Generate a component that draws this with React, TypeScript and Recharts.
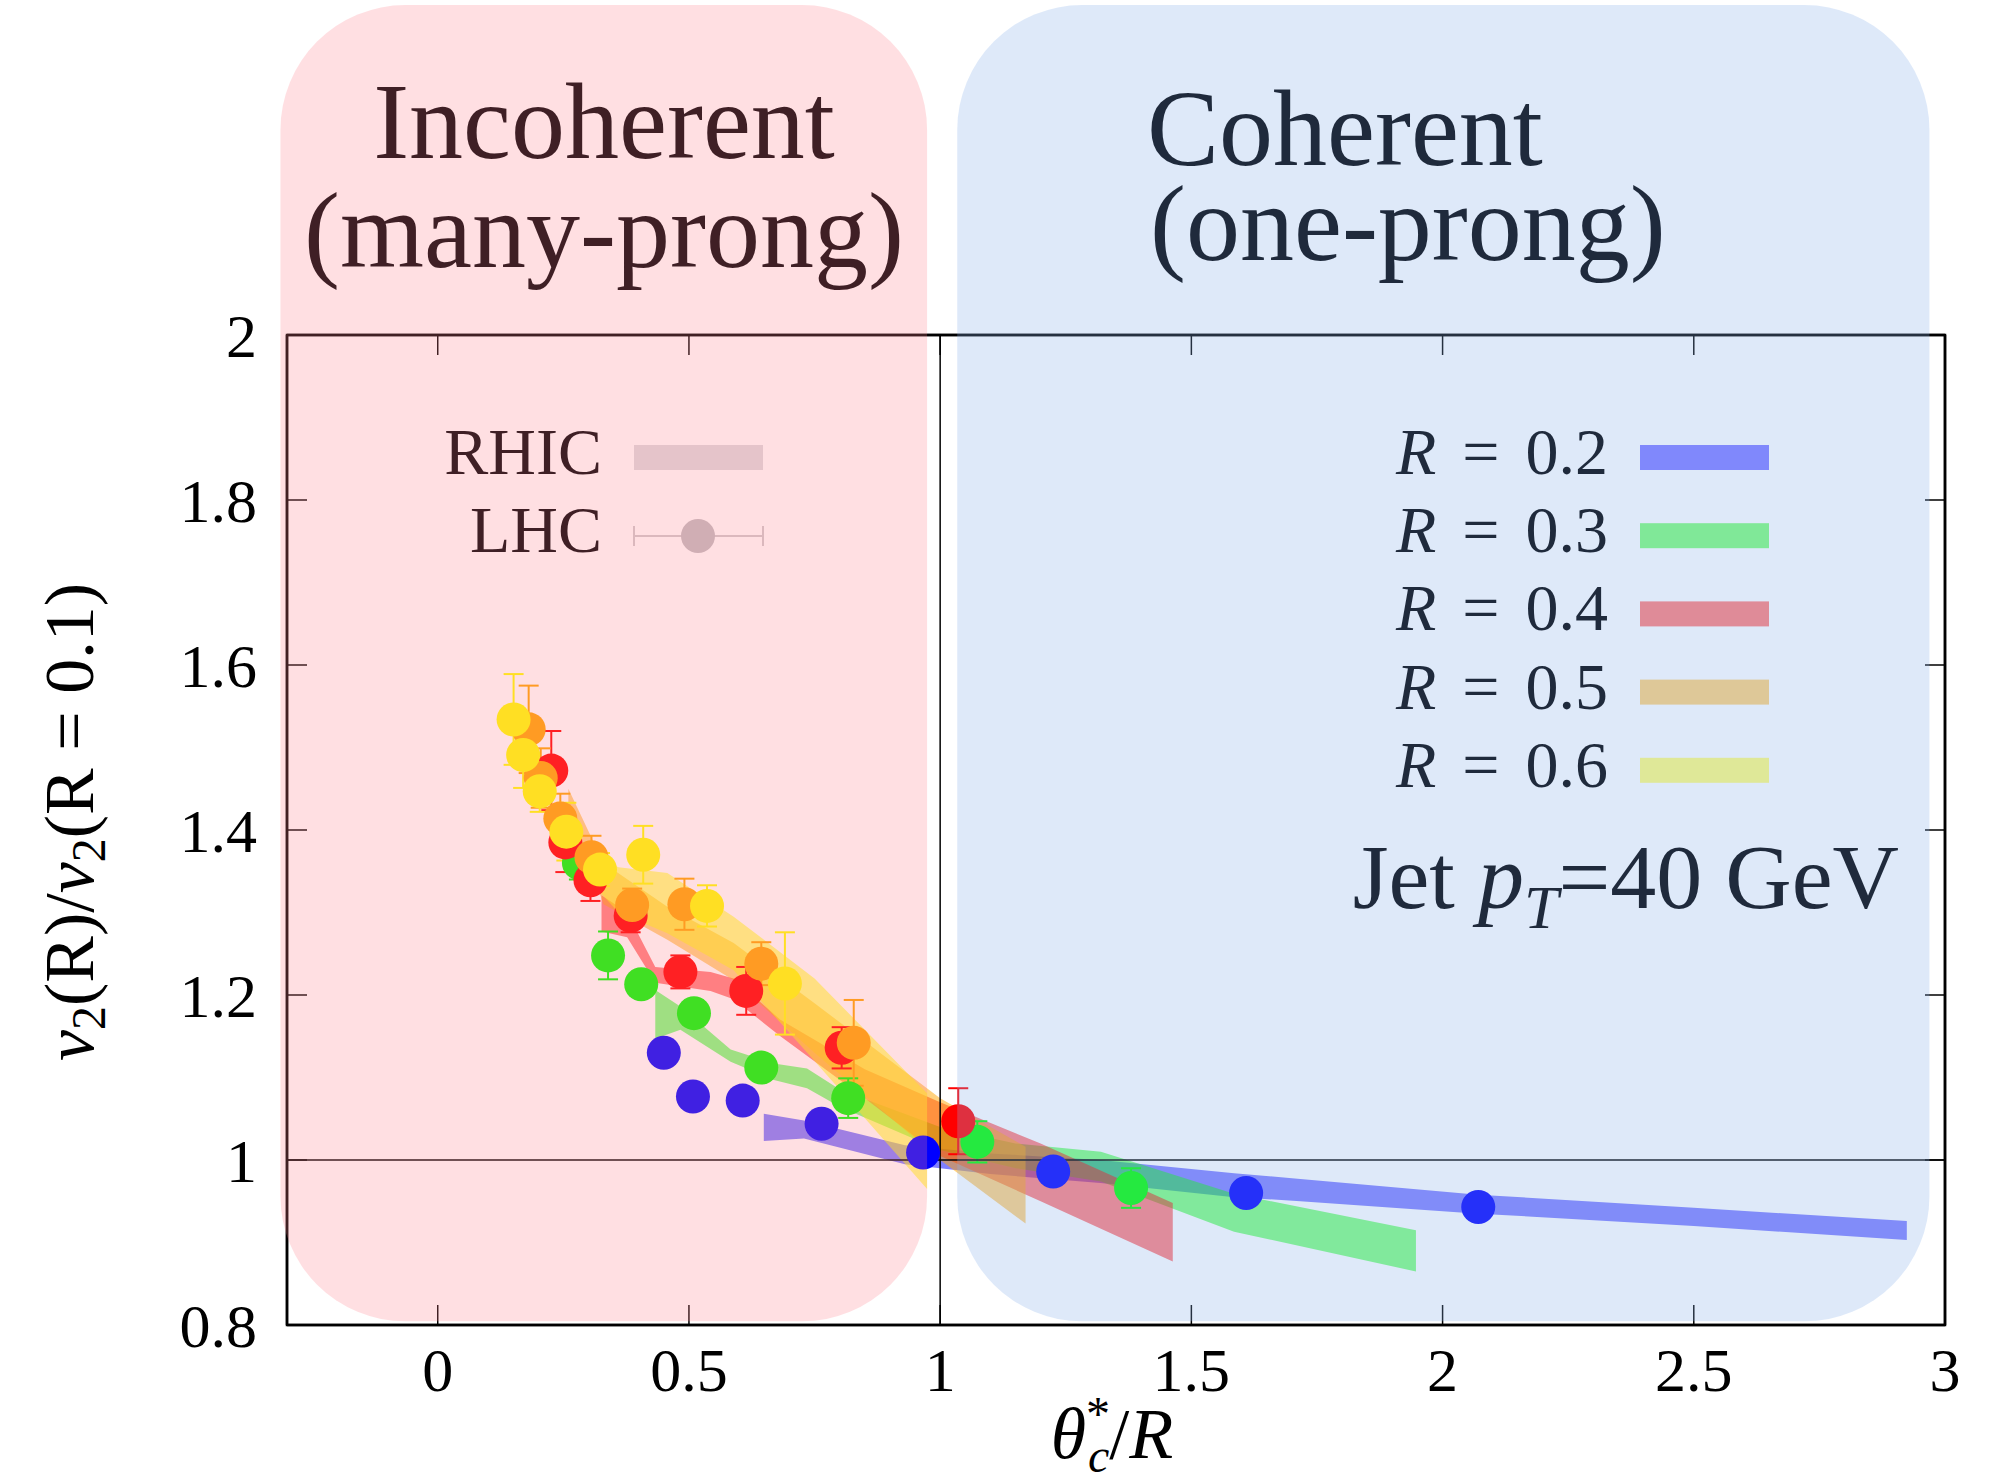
import React from "react";
import {
  ComposedChart,
  XAxis,
  YAxis,
  Area,
  Scatter,
  ErrorBar,
  ReferenceArea,
  ReferenceLine,
} from "recharts";

const W = 1999;
const H = 1481;
const FONT = "'Liberation Serif', 'DejaVu Serif', serif";

const xTicks = [0, 0.5, 1, 1.5, 2, 2.5, 3];
const yTicks = [0.8, 1, 1.2, 1.4, 1.6, 1.8, 2];

const radiusLabels = ["0.2", "0.3", "0.4", "0.5", "0.6"];
const seriesColors = ["#0000ff", "#00ff00", "#ff0000", "#ffa500", "#ffff00"];
// how the band colours look through the blue panel (legend swatches)
const swatchColors = ["#8088fc", "#80e898", "#df8b98", "#dec898", "#dfe898"];

// RHIC bands (lower / upper edge)
const bandX02 = [0.649, 0.729, 0.93, 1.1, 1.319, 1.585, 1.717, 2.071, 2.5, 2.924];
const bandLo02 = [1.023, 1.026, 0.995, 0.983, 0.972, 0.955, 0.95, 0.935, 0.92, 0.903];
const bandHi02 = [1.056, 1.048, 1.018, 1.008, 1.0, 0.984, 0.977, 0.958, 0.942, 0.926];

const bandX03 = [0.433, 0.483, 0.583, 0.669, 0.735, 0.802, 1.0, 1.15, 1.32, 1.585, 1.947];
const bandLo03 = [1.147, 1.158, 1.119, 1.097, 1.087, 1.064, 1.012, 0.99, 0.974, 0.913, 0.865];
const bandHi03 = [1.206, 1.186, 1.134, 1.117, 1.111, 1.085, 1.04, 1.02, 1.01, 0.959, 0.915];

const bandX04 = [0.326, 0.377, 0.433, 0.543, 0.589, 0.682, 0.85, 1.0, 1.2, 1.463];
const bandLo04 = [1.277, 1.27, 1.215, 1.205, 1.195, 1.15, 1.075, 1.005, 0.95, 0.877];
const bandHi04 = [1.321, 1.3, 1.234, 1.228, 1.22, 1.17, 1.11, 1.07, 1.02, 0.948];

const bandX05 = [0.26, 0.33, 0.457, 0.589, 0.75, 1.0, 1.17];
const bandLo05 = [1.43, 1.31, 1.267, 1.218, 1.13, 1.0, 0.923];
const bandHi05 = [1.45, 1.36, 1.307, 1.263, 1.19, 1.075, 1.016];

const bandX06 = [0.3, 0.36, 0.457, 0.589, 0.75, 0.974];
const bandLo06 = [1.34, 1.3, 1.275, 1.23, 1.12, 0.965];
const bandHi06 = [1.37, 1.355, 1.348, 1.295, 1.22, 1.081];

// LHC points
const lhcX02 = [0.45, 0.508, 0.607, 0.764, 0.966, 1.225, 1.609, 2.071];
const lhcY02 = [1.13, 1.077, 1.072, 1.044, 1.009, 0.986, 0.96, 0.943];
const lhcErr02 = [0.004, 0.004, 0.004, 0.004, 0.004, 0.004, 0.004, 0.004];

const lhcX03 = [0.281, 0.339, 0.405, 0.51, 0.644, 0.817, 1.074, 1.38];
const lhcY03 = [1.36, 1.248, 1.213, 1.178, 1.112, 1.075, 1.022, 0.966];
const lhcErr03 = [0.02, 0.029, 0.015, 0.015, 0.015, 0.024, 0.025, 0.024];

const lhcX04 = [0.226, 0.254, 0.304, 0.384, 0.483, 0.614, 0.804, 1.036];
const lhcY04 = [1.472, 1.385, 1.339, 1.296, 1.228, 1.205, 1.136, 1.047];
const lhcErr04 = [0.048, 0.036, 0.025, 0.02, 0.02, 0.029, 0.025, 0.04];

const lhcX05 = [0.181, 0.205, 0.244, 0.306, 0.387, 0.491, 0.644, 0.828];
const lhcY05 = [1.522, 1.463, 1.414, 1.367, 1.309, 1.31, 1.238, 1.142];
const lhcErr05 = [0.053, 0.036, 0.03, 0.026, 0.02, 0.031, 0.026, 0.052];

const lhcX06 = [0.151, 0.17, 0.203, 0.256, 0.323, 0.409, 0.536, 0.691];
const lhcY06 = [1.534, 1.491, 1.447, 1.398, 1.352, 1.37, 1.308, 1.214];
const lhcErr06 = [0.055, 0.04, 0.025, 0.035, 0.02, 0.035, 0.025, 0.062];

const makeBand = (xs: number[], lo: number[], hi: number[]) =>
  xs.map((x, i) => ({ x, lo: lo[i], hi: hi[i] }));
const makePoints = (xs: number[], ys: number[], errs: number[]) =>
  xs.map((x, i) => ({ x, y: ys[i], err: errs[i] }));

const bands = [
  makeBand(bandX02, bandLo02, bandHi02),
  makeBand(bandX03, bandLo03, bandHi03),
  makeBand(bandX04, bandLo04, bandHi04),
  makeBand(bandX05, bandLo05, bandHi05),
  makeBand(bandX06, bandLo06, bandHi06),
];
const points = [
  makePoints(lhcX02, lhcY02, lhcErr02),
  makePoints(lhcX03, lhcY03, lhcErr03),
  makePoints(lhcX04, lhcY04, lhcErr04),
  makePoints(lhcX05, lhcY05, lhcErr05),
  makePoints(lhcX06, lhcY06, lhcErr06),
];

// the two shaded regimes, in data coordinates
const incoherentBox = { x1: -0.313, x2: 0.974, y1: 0.8045, y2: 2.4 };
const coherentBox = { x1: 1.034, x2: 2.969, y1: 0.8045, y2: 2.4 };

const roundedPanel = (fill: string, opacity: number) => (p: any) => (
  <rect
    x={p.x}
    y={p.y}
    width={p.width}
    height={p.height}
    rx={125}
    ry={125}
    fill={fill}
    fillOpacity={opacity}
  />
);

const axisLine = { stroke: "#000", strokeWidth: 2.5 };
const tickLine = { stroke: "#000", strokeWidth: 1.5 };
const tickFont = { fill: "#000", fontSize: 62, fontFamily: FONT };
const noLabel = () => <g />;

const PINK_TEXT = "#3f1f25";
const BLUE_TEXT = "#1f2a3c";

export default function App() {
  return (
    <div style={{ position: "absolute", left: 0, top: 0, width: W, height: H, background: "#fff" }}>
      <ComposedChart
        width={W}
        height={H}
        margin={{ top: 334, right: 53, bottom: 96, left: 187 }}
      >
        <XAxis
          type="number"
          dataKey="x"
          domain={[-0.3, 3]}
          ticks={xTicks}
          allowDataOverflow
          height={60}
          tickSize={-20}
          tickMargin={42}
          axisLine={axisLine}
          tickLine={tickLine}
          tick={tickFont}
        />
        <XAxis
          xAxisId="top"
          orientation="top"
          type="number"
          dataKey="x"
          domain={[-0.3, 3]}
          ticks={xTicks}
          allowDataOverflow
          height={1}
          tickSize={-20}
          axisLine={axisLine}
          tickLine={tickLine}
          tick={noLabel}
        />
        <YAxis
          type="number"
          domain={[0.8, 2]}
          ticks={yTicks}
          allowDataOverflow
          width={100}
          tickSize={-20}
          tickMargin={50}
          axisLine={axisLine}
          tickLine={tickLine}
          tick={tickFont}
        />
        <YAxis
          yAxisId="right"
          orientation="right"
          type="number"
          domain={[0.8, 2]}
          ticks={yTicks}
          allowDataOverflow
          width={1}
          tickSize={-20}
          axisLine={axisLine}
          tickLine={tickLine}
          tick={noLabel}
        />

        {bands.map((band, i) => (
          <Area
            key={"band" + i}
            data={band}
            dataKey={(d: any) => [d.lo, d.hi]}
            type="linear"
            stroke="none"
            fill={seriesColors[i]}
            fillOpacity={0.5}
            dot={false}
            activeDot={false}
            isAnimationActive={false}
          />
        ))}

        {points.map((pts, i) => (
          <Scatter
            key={"lhc" + i}
            data={pts}
            dataKey="y"
            fill={seriesColors[i]}
            isAnimationActive={false}
            shape={(p: any) => <circle cx={p.cx} cy={p.cy} r={17} fill={seriesColors[i]} />}
          >
            <ErrorBar dataKey="err" direction="y" width={10} stroke={seriesColors[i]} strokeWidth={2} />
          </Scatter>
        ))}

        <ReferenceLine x={1} stroke="#000" strokeWidth={1.5} />
        <ReferenceLine y={1} stroke="#000" strokeWidth={1.5} />
        {/* plot frame */}
        <ReferenceArea
          x1={-0.3}
          x2={3}
          y1={0.8}
          y2={2}
          fill="none"
          fillOpacity={0}
          stroke="#000"
          strokeWidth={2.5}
        />

        <ReferenceArea
          {...incoherentBox}
          ifOverflow="visible"
          zIndex={3000}
          shape={roundedPanel("rgb(255,127,139)", 0.25)}
        />
        <ReferenceArea
          {...coherentBox}
          ifOverflow="visible"
          zIndex={3000}
          shape={roundedPanel("rgb(135,175,233)", 0.275)}
        />
      </ComposedChart>

      <svg
        width={W}
        height={H}
        style={{ position: "absolute", left: 0, top: 0, pointerEvents: "none" }}
        fontFamily={FONT}
      >
        <text x={604} y={158} textAnchor="middle" fontSize={108} fill={PINK_TEXT}>
          Incoherent
        </text>
        <text x={604} y={267} textAnchor="middle" fontSize={108} fill={PINK_TEXT}>
          (many-prong)
        </text>
        <text x={1147} y={165} fontSize={108} fill={BLUE_TEXT}>
          Coherent
        </text>
        <text x={1150} y={260} fontSize={108} fill={BLUE_TEXT}>
          (one-prong)
        </text>

        <text x={602} y={474} textAnchor="end" fontSize={66} fill={PINK_TEXT}>
          RHIC
        </text>
        <rect x={634} y={445} width={129} height={25} fill="#e5c4ca" />
        <text x={602} y={552} textAnchor="end" fontSize={66} fill={PINK_TEXT}>
          LHC
        </text>
        <line x1={634} x2={763} y1={536} y2={536} stroke="#dbb8bd" strokeWidth={2} />
        <line x1={634} x2={634} y1={526} y2={546} stroke="#dbb8bd" strokeWidth={2} />
        <line x1={763} x2={763} y1={526} y2={546} stroke="#dbb8bd" strokeWidth={2} />
        <circle cx={698} cy={536} r={17} fill="#d0aeb4" />

        {radiusLabels.map((r, i) => (
          <g key={r}>
            <text x={1608} y={474 + 78.2 * i} textAnchor="end" fontSize={66} fill={BLUE_TEXT}>
              <tspan fontStyle="italic">R</tspan>
              <tspan dx={26}>=</tspan>
              <tspan dx={26}>{r}</tspan>
            </text>
            <rect x={1640} y={445 + 78.2 * i} width={129} height={25} fill={swatchColors[i]} />
          </g>
        ))}

        <text x={1899} y={908} textAnchor="end" fontSize={92} fill={BLUE_TEXT}>
          Jet <tspan fontStyle="italic">p</tspan>
          <tspan fontStyle="italic" fontSize={62} dy={20}>
            T
          </tspan>
          <tspan dy={-20}>=40 GeV</tspan>
        </text>

        <text
          x={93}
          y={822}
          transform="rotate(-90 93 822)"
          textAnchor="middle"
          fontSize={70}
          fill="#000"
        >
          <tspan fontStyle="italic">v</tspan>
          <tspan fontSize={48} dy={12}>2</tspan>
          <tspan dy={-12}>(R)/</tspan>
          <tspan fontStyle="italic">v</tspan>
          <tspan fontSize={48} dy={12}>2</tspan>
          <tspan dy={-12}>(R = 0.1)</tspan>
        </text>

        <text x={1112} y={1458} textAnchor="middle" fontSize={72} fill="#000">
          <tspan fontStyle="italic">θ</tspan>
          <tspan fontSize={48} dy={-28}>*</tspan>
          <tspan fontSize={48} fontStyle="italic" dx={-22} dy={42}>c</tspan>
          <tspan dy={-14}>/</tspan>
          <tspan fontStyle="italic">R</tspan>
        </text>
      </svg>
    </div>
  );
}
